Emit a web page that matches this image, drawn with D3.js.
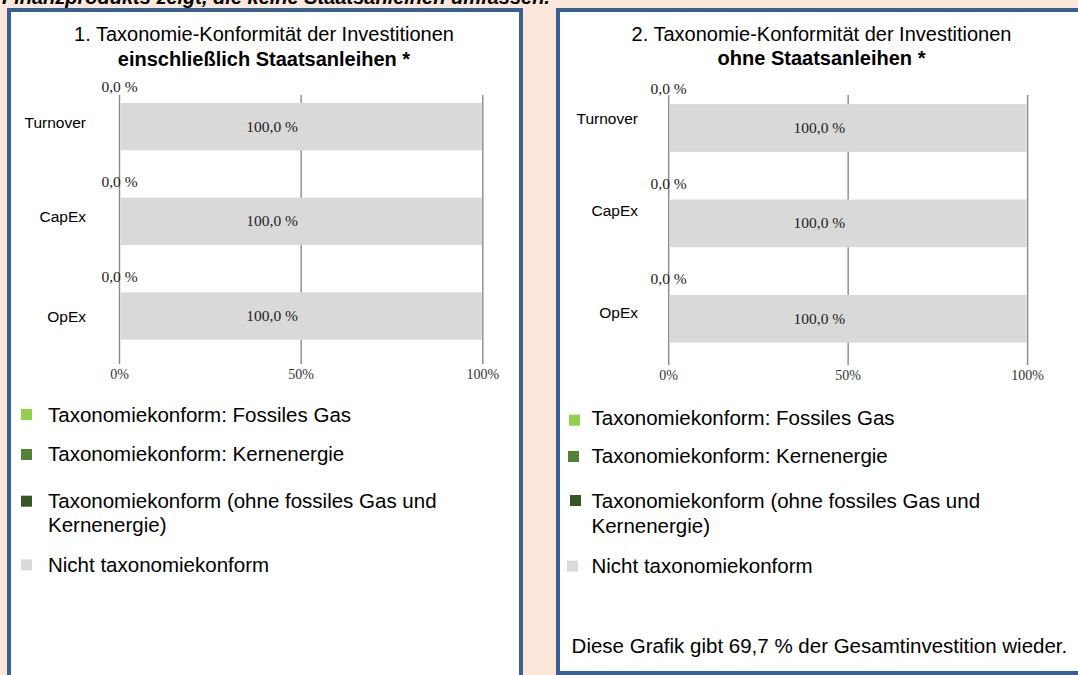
<!DOCTYPE html>
<html>
<head>
<meta charset="utf-8">
<script src="https://cdn.jsdelivr.net/npm/d3@7"></script>
<style>
  html, body { margin: 0; padding: 0; background: #fce8da; }
  svg { display: block; }
</style>
</head>
<body>
<svg id="chart" width="1078" height="675"></svg>
<script>
// ---- data ----
const categories = ["Turnover", "CapEx", "OpEx"];

// Panel 1: including sovereign bonds (percent of investments)
const gas1      = [0, 0, 0];
const nuclear1  = [0, 0, 0];
const otherAl1  = [0, 0, 0];
const notAl1    = [100, 100, 100];

// Panel 2: excluding sovereign bonds
const gas2      = [0, 0, 0];
const nuclear2  = [0, 0, 0];
const otherAl2  = [0, 0, 0];
const notAl2    = [100, 100, 100];

const xTicks = [0, 50, 100];
const seriesKeys = ["gas", "nuclear", "other", "notAligned"];
const legendLabels = [
  ["Taxonomiekonform: Fossiles Gas"],
  ["Taxonomiekonform: Kernenergie"],
  ["Taxonomiekonform (ohne fossiles Gas und", "Kernenergie)"],
  ["Nicht taxonomiekonform"]
];
const seriesColors = ["#92d050", "#548235", "#375623", "#d9d9d9"];
const coverageShare = 69.7;

const headerText = "Finanzprodukts zeigt, die keine Staatsanleihen umfassen.";
const titles1 = ["1. Taxonomie-Konformität der Investitionen", "einschließlich Staatsanleihen *"];
const titles2 = ["2. Taxonomie-Konformität der Investitionen", "ohne Staatsanleihen *"];

// ---- helpers ----
const fmtPct = v => d3.format(".1f")(v).replace(".", ",") + " %";
const SANS = "'Liberation Sans', Arial, sans-serif";
const SERIF = "'Liberation Serif', 'Times New Roman', serif";

const svg = d3.select("#chart");

svg.append("rect").attr("width", 1078).attr("height", 675).attr("fill", "#fce8da");

// truncated caption line running along the top edge
svg.append("text")
  .attr("x", 2).attr("y", 4)
  .attr("font-family", SANS).attr("font-size", 20)
  .attr("font-weight", "bold").attr("font-style", "italic")
  .attr("fill", "#000")
  .text(headerText);

function buildRows(gas, nuc, oth, nal) {
  return categories.map((c, i) => ({
    category: c, gas: gas[i], nuclear: nuc[i], other: oth[i], notAligned: nal[i]
  }));
}

function drawPanel(cfg) {
  const g = svg.append("g");

  // frame
  g.append("rect")
    .attr("x", cfg.frame[0]).attr("y", cfg.frame[1])
    .attr("width", cfg.frame[2]).attr("height", cfg.frame[3])
    .attr("fill", "#fff").attr("stroke", "#386192").attr("stroke-width", 4);

  // titles
  g.append("text").attr("x", cfg.titleX).attr("y", cfg.titleY[0])
    .attr("text-anchor", "middle").attr("font-family", SANS).attr("font-size", 20)
    .attr("fill", "#000").text(cfg.titles[0]);
  g.append("text").attr("x", cfg.titleX).attr("y", cfg.titleY[1])
    .attr("text-anchor", "middle").attr("font-family", SANS).attr("font-size", 20)
    .attr("font-weight", "bold").attr("fill", "#000").text(cfg.titles[1]);

  const x = d3.scaleLinear().domain([0, 100]).range(cfg.xRange);
  const y = d3.scaleBand().domain(categories).range(cfg.yRange)
    .paddingInner(0.5).paddingOuter(0.25);

  // vertical gridlines
  g.append("g").selectAll("line").data(xTicks).join("line")
    .attr("x1", d => x(d)).attr("x2", d => x(d))
    .attr("y1", cfg.gridY[0]).attr("y2", cfg.gridY[1])
    .attr("stroke", "#8a8a8a").attr("stroke-width", 1.4);

  // x tick labels
  g.append("g").selectAll("text").data(xTicks).join("text")
    .attr("x", d => x(d)).attr("y", cfg.tickY)
    .attr("text-anchor", "middle").attr("font-family", SERIF).attr("font-size", 14)
    .attr("fill", "#333").text(d => d + "%");

  // stacked bars
  const rows = cfg.rows;
  const stack = d3.stack().keys(seriesKeys)(rows);
  const layers = g.append("g").selectAll("g").data(stack).join("g")
    .attr("fill", (d, i) => seriesColors[i]);
  layers.selectAll("rect").data(d => d).join("rect")
    .attr("x", d => x(d[0]) + 1)
    .attr("y", d => y(d.data.category))
    .attr("width", d => Math.max(0, x(d[1]) - x(d[0]) - 2))
    .attr("height", y.bandwidth());

  // labels: aligned total above bar start, non-aligned inside the bar
  const alignedTotal = d => d.gas + d.nuclear + d.other;
  g.append("g").selectAll("text").data(rows).join("text")
    .attr("x", d => x(alignedTotal(d)))
    .attr("y", d => y(d.category) - 10.5)
    .attr("text-anchor", "middle").attr("font-family", SERIF).attr("font-size", 15.5)
    .attr("fill", "#222").text(d => fmtPct(alignedTotal(d)));

  const lastLayer = stack[stack.length - 1];
  g.append("g").selectAll("text").data(lastLayer).join("text")
    .attr("x", d => x(d[0] + (d[1] - d[0]) * 0.42))
    .attr("y", d => y(d.data.category) + y.bandwidth() / 2 + 5)
    .attr("text-anchor", "middle").attr("font-family", SERIF).attr("font-size", 15.5)
    .attr("fill", "#222").text(d => fmtPct(d[1] - d[0]));

  // category labels
  g.append("g").selectAll("text").data(categories).join("text")
    .attr("x", cfg.catX)
    .attr("y", (d, i) => y(d) + y.bandwidth() / 2 + cfg.catNudge[i])
    .attr("text-anchor", "end").attr("font-family", SANS).attr("font-size", 15.5)
    .attr("fill", "#000").text(d => d);

  // legend
  legendLabels.forEach((lines, i) => {
    const it = cfg.legend[i];
    g.append("rect").attr("x", it.sx).attr("y", it.sy)
      .attr("width", 11).attr("height", 11).attr("fill", seriesColors[i]);
    lines.forEach((ln, j) => {
      g.append("text").attr("x", cfg.legendTextX).attr("y", it.ty[j])
        .attr("font-family", SANS).attr("font-size", 20.5).attr("fill", "#000")
        .text(ln);
    });
  });
}

drawPanel({
  frame: [9, 10, 512, 700],
  titles: titles1, titleX: 264, titleY: [41, 66],
  xRange: [119.5, 482.8], yRange: [79.3, 363.4], gridY: [95, 364], tickY: 379,
  rows: buildRows(gas1, nuclear1, otherAl1, notAl1),
  catX: 86, catNudge: [1, 1, 6],
  legendTextX: 48,
  legend: [
    { sx: 21, sy: 409, ty: [422] },
    { sx: 21, sy: 449, ty: [461.3] },
    { sx: 21, sy: 495.7, ty: [507.8, 531.9] },
    { sx: 21, sy: 559.4, ty: [571.5] }
  ]
});

drawPanel({
  frame: [558, 10, 600, 663],
  titles: titles2, titleX: 821.5, titleY: [40.5, 65.2],
  xRange: [668.7, 1027.6], yRange: [80.3, 366.5], gridY: [95, 365], tickY: 379.6,
  rows: buildRows(gas2, nuclear2, otherAl2, notAl2),
  catX: 638, catNudge: [-4, -7, -1],
  legendTextX: 591.5,
  legend: [
    { sx: 569, sy: 414.7, ty: [424.7] },
    { sx: 568, sy: 451, ty: [463.1] },
    { sx: 570, sy: 495, ty: [508.4, 533.4] },
    { sx: 567, sy: 560.6, ty: [572.9] }
  ]
});

// coverage note under the second legend
svg.append("text")
  .attr("x", 571.6).attr("y", 653.2)
  .attr("font-family", SANS).attr("font-size", 20.5).attr("fill", "#000")
  .text("Diese Grafik gibt " + d3.format(".1f")(coverageShare).replace(".", ",") + " % der Gesamtinvestition wieder.");
</script>
</body>
</html>
